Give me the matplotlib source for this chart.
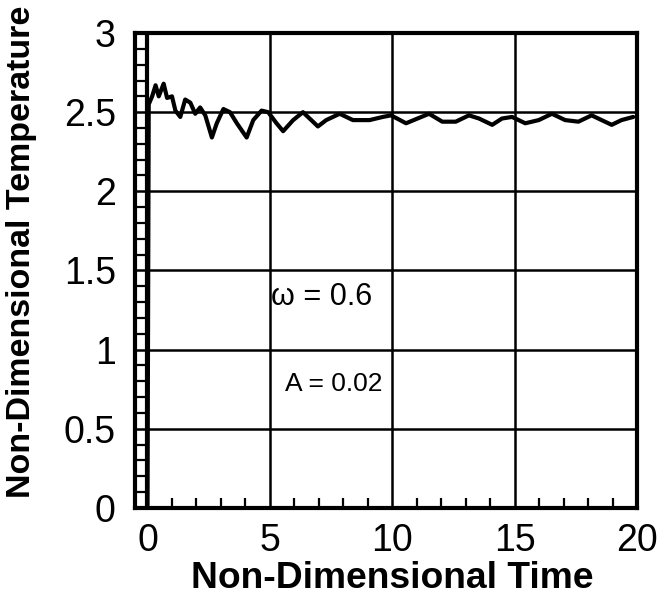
import matplotlib
matplotlib.use("Agg")
import matplotlib.pyplot as plt
from matplotlib.ticker import MultipleLocator
import numpy as np

plt.rcParams['font.family'] = ['Liberation Sans', 'DejaVu Sans']

# non-dimensional time / temperature
t = [0.0, 0.05, 0.19, 0.33, 0.46, 0.66, 0.80, 1.00, 1.14, 1.34, 1.54, 1.75, 1.95,
     2.15, 2.36, 2.63, 2.83, 3.10, 3.37, 3.65, 4.05, 4.32, 4.66, 4.93, 5.27, 5.54,
     5.95, 6.35, 6.69, 6.96, 7.30, 7.85, 8.39, 9.07, 9.61, 9.95, 10.56, 11.50,
     12.04, 12.59, 13.13, 13.54, 14.08, 14.48, 14.89, 15.43, 15.98, 16.52, 17.06,
     17.60, 18.14, 18.96, 19.36, 19.84]
temp = [0.0, 2.55, 2.60, 2.67, 2.60, 2.68, 2.59, 2.60, 2.51, 2.47, 2.58, 2.56, 2.49,
        2.53, 2.48, 2.34, 2.43, 2.52, 2.50, 2.43, 2.34, 2.45, 2.51, 2.50, 2.43, 2.38,
        2.45, 2.50, 2.45, 2.41, 2.45, 2.49, 2.45, 2.45, 2.47, 2.48, 2.43, 2.49,
        2.44, 2.44, 2.48, 2.46, 2.42, 2.46, 2.47, 2.43, 2.45, 2.49, 2.45,
        2.44, 2.48, 2.42, 2.45, 2.47]

xticks = [0, 5, 10, 15, 20]
yticks = [0, 0.5, 1, 1.5, 2, 2.5, 3]
ytick_labels = ['0', '0.5', '1', '1.5', '2', '2.5', '3']

fig = plt.figure(figsize=(6.63, 6.01), dpi=100)
ax = fig.add_axes([0.204, 0.155, 0.757, 0.79])

ax.plot(t, temp, color='black', lw=3, solid_joinstyle='round', solid_capstyle='round')

ax.set_xlim(-0.5, 20)
ax.set_ylim(0, 3)
ax.set_xticks(xticks)
ax.set_yticks(yticks)
ax.set_yticklabels(ytick_labels)
ax.xaxis.set_minor_locator(MultipleLocator(1))
ax.yaxis.set_minor_locator(MultipleLocator(0.1))
ax.tick_params(which='both', direction='in', width=1.6, labelsize=27, top=False, right=False)
ax.tick_params(which='major', length=0)
ax.tick_params(axis='x', which='major', pad=11)
ax.tick_params(axis='y', which='major', pad=14)
ax.tick_params(axis='x', which='minor', length=7)
ax.tick_params(axis='y', which='minor', length=9.5)

for v in xticks[1:-1]:
    ax.axvline(v, color='black', lw=1.8)
for v in yticks[1:-1]:
    ax.axhline(v, color='black', lw=1.8)
ax.axvline(0, color='black', lw=3)

for s in ax.spines.values():
    s.set_linewidth(3)

ax.set_xlabel('Non-Dimensional Time', fontsize=26.8, fontweight='bold')
ax.set_ylabel('Non-Dimensional Temperature', fontsize=24.5, fontweight='bold')
ax.xaxis.set_label_coords(0.512, -0.113)
ax.yaxis.set_label_coords(-0.195, 0.54)

ax.text(7.1, 1.33, 'ω = 0.6', fontsize=22, ha='center', va='center')
ax.text(7.6, 0.78, 'A = 0.02', fontsize=19, ha='center', va='center')

fig.savefig('out.png', dpi=100)
